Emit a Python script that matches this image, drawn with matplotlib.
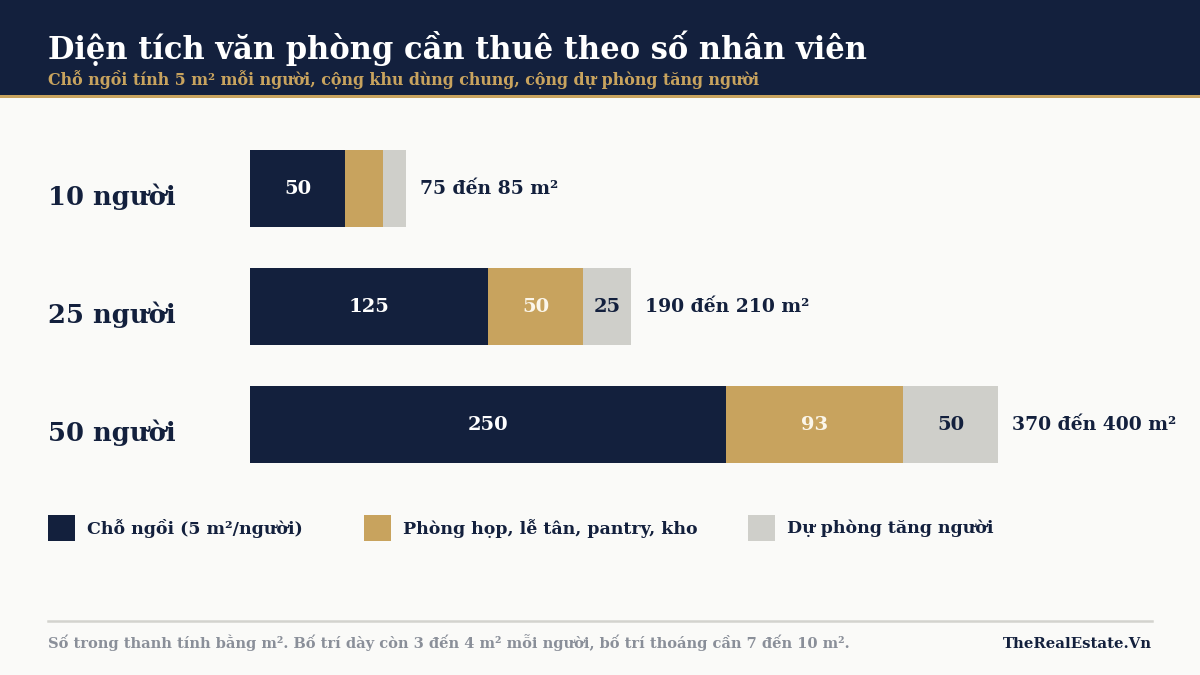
import matplotlib
matplotlib.use("Agg")
import matplotlib.pyplot as plt
from matplotlib.patches import Rectangle
from matplotlib.lines import Line2D
import matplotlib.transforms as mtransforms

NAVY = "#13203d"
GOLD = "#c8a35e"
GREY = "#cfcfca"
BG = "#fafaf8"
plt.rcParams['font.family'] = ['DejaVu Serif']

# data
groups = ["10 người", "25 người", "50 người"]
seats = [50, 125, 250]
shared = [20, 50, 93]
reserve = [12, 25, 50]
totals = ["75 đến 85 m²", "190 đến 210 m²", "370 đến 400 m²"]
series_names = ["Chỗ ngồi (5 m²/người)", "Phòng họp, lễ tân, pantry, kho", "Dự phòng tăng người"]

W, H = 1200, 675
fig = plt.figure(figsize=(12, 6.75), dpi=100)
fig.patch.set_facecolor(BG)

def fx(px):
    return px / W

def fy(py):
    return 1 - py / H

# header band
fig.patches.append(Rectangle((0, fy(95)), 1, 95 / H, transform=fig.transFigure,
                             facecolor=NAVY, edgecolor="none", zorder=0))
fig.patches.append(Rectangle((0, fy(98)), 1, 3 / H, transform=fig.transFigure,
                             facecolor=GOLD, edgecolor="none", zorder=0))
fig.text(fx(48), fy(59), "Diện tích văn phòng cần thuê theo số nhân viên",
         color="white", fontsize=22, fontweight="bold", va="baseline", ha="left")
fig.text(fx(48), fy(85), "Chỗ ngồi tính 5 m² mỗi người, cộng khu dùng chung, cộng dự phòng tăng người",
         color=GOLD, fontsize=11.4, fontweight="bold", va="baseline", ha="left")

# bar axes
px_per_unit = 1.904
top_px, bot_px = 129.5, 483.5
ax = fig.add_axes([fx(250), fy(bot_px), fx(W - 250), (bot_px - top_px) / H])
ax.set_xlim(0, (W - 250) / px_per_unit)
ax.set_ylim(len(groups) - 0.5, -0.5)
ax.axis("off")

pos = list(range(len(groups)))
bh = 77 / 118
left2 = [a + b for a, b in zip(seats, shared)]
ax.barh(pos, seats, height=bh, color=NAVY)
ax.barh(pos, shared, left=seats, height=bh, color=GOLD)
ax.barh(pos, reserve, left=left2, height=bh, color=GREY)

lab_kw = dict(fontsize=14, fontweight="bold", ha="center", va="center")
for i in pos:
    ax.text(seats[i] / 2, i, str(seats[i]), color="white", **lab_kw)
    if shared[i] >= 30:
        ax.text(seats[i] + shared[i] / 2, i, str(shared[i]), color="#fbf6ea", **lab_kw)
    if reserve[i] >= 20:
        ax.text(left2[i] + reserve[i] / 2, i, str(reserve[i]), color=NAVY, **lab_kw)
    end = left2[i] + reserve[i]
    ax.text(end + 14 / px_per_unit, i, totals[i], color=NAVY, fontsize=13.5,
            fontweight="bold", ha="left", va="center")

trans = mtransforms.blended_transform_factory(fig.transFigure, ax.transData)
for i, g in enumerate(groups):
    ax.text(fx(48), i + 0.14, g, transform=trans, color=NAVY, fontsize=18.5,
            fontweight="bold", ha="left", va="baseline")

# legend
colors = [NAVY, GOLD, GREY]
sq_x = [48, 364, 748]
for name, c, x in zip(series_names, colors, sq_x):
    fig.patches.append(Rectangle((fx(x), fy(541)), 27 / W, 26 / H, transform=fig.transFigure,
                                 facecolor=c, edgecolor="none"))
    fig.text(fx(x + 39), fy(528), name, color=NAVY, fontsize=12.5, fontweight="bold",
             ha="left", va="center")

# footer
fig.lines.append(Line2D([fx(48), fx(1152)], [fy(621), fy(621)], transform=fig.transFigure,
                        color="#d3d3ce", linewidth=1.8))
fig.text(fx(48), fy(648), "Số trong thanh tính bằng m². Bố trí dày còn 3 đến 4 m² mỗi người, bố trí thoáng cần 7 đến 10 m².",
         color="#8a8f99", fontsize=10.5, fontweight="bold", ha="left", va="baseline")
fig.text(fx(1152), fy(648), "TheRealEstate.Vn", color=NAVY, fontsize=10.7, fontweight="bold",
         ha="right", va="baseline")

fig.savefig("out.png", dpi=100, facecolor=BG)
